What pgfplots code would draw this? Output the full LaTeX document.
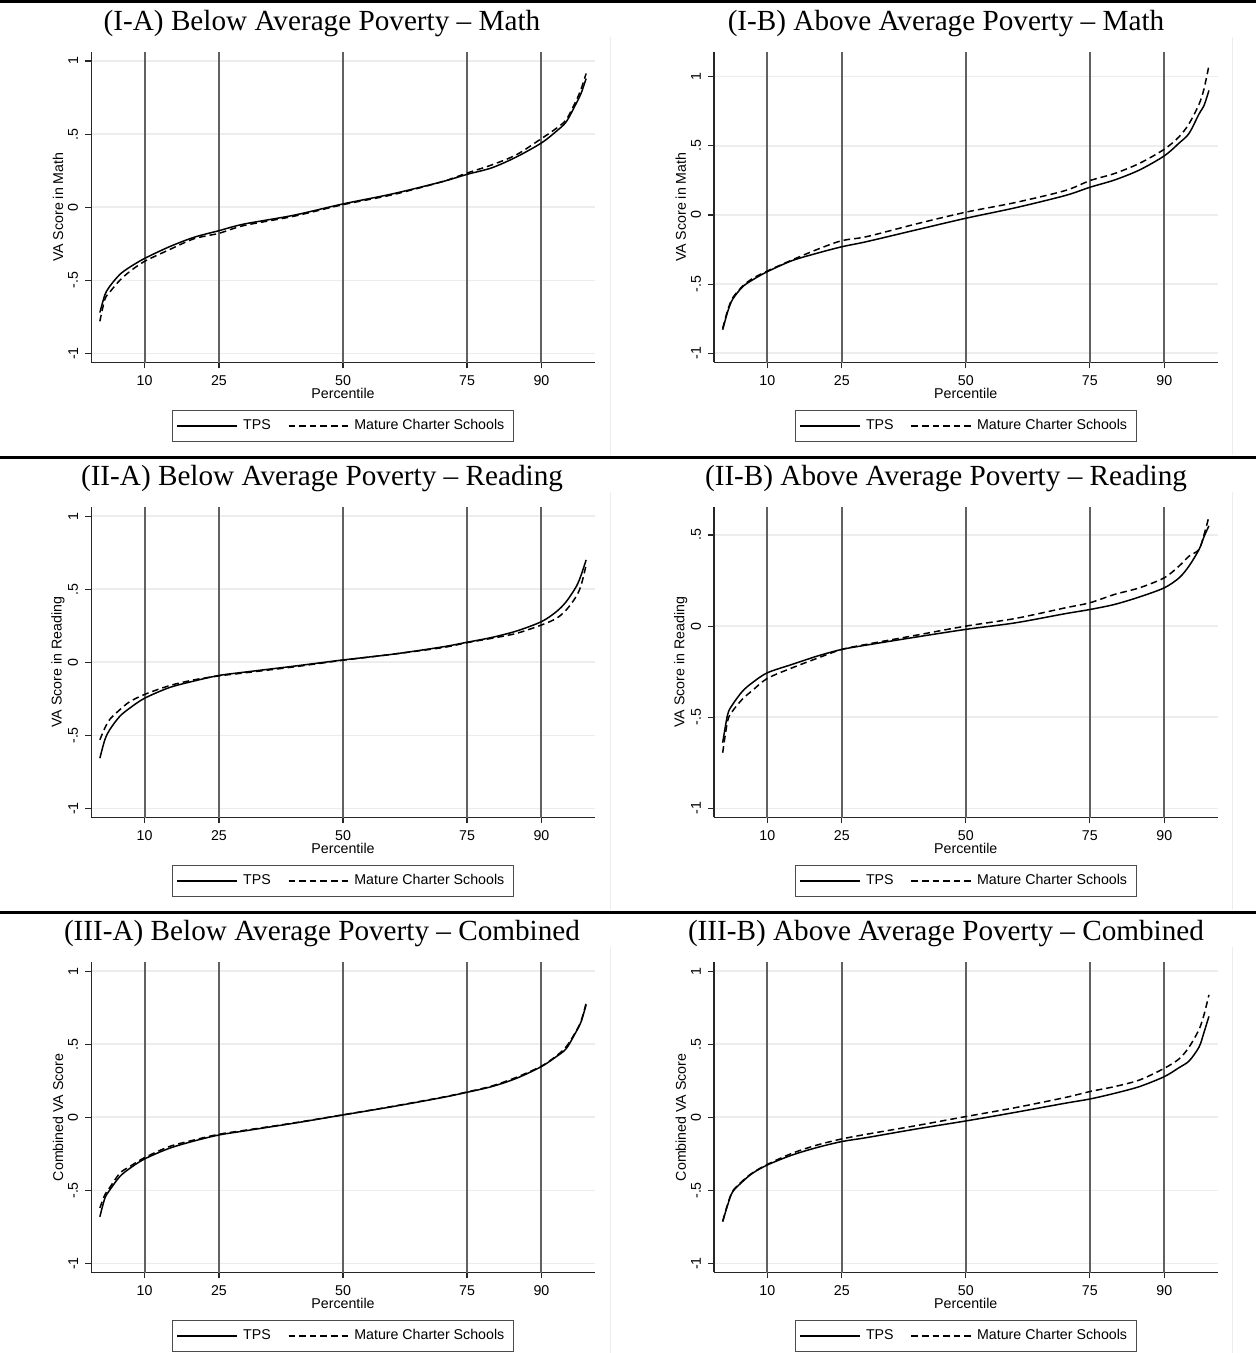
\documentclass[border=0pt]{standalone}
\usepackage{fontspec}
\setmainfont{Liberation Sans}
\newfontfamily\titlefont{Liberation Serif}
\usepackage{pgfplots}
\usepackage{pgfplotstable}
\pgfplotsset{compat=1.18}

\pgfplotstableread{
p tps mcs
1 -0.72 -0.78
2 -0.60 -0.63
3 -0.54 -0.58
5 -0.46 -0.50
7 -0.41 -0.44
10 -0.35 -0.37
15 -0.27 -0.29
20 -0.205 -0.215
25 -0.16 -0.178
30 -0.115 -0.125
40 -0.055 -0.062
50 0.023 0.018
60 0.092 0.086
70 0.175 0.175
75 0.225 0.234
80 0.27 0.29
85 0.345 0.36
90 0.44 0.47
93 0.52 0.54
95 0.585 0.60
97 0.71 0.73
98 0.78 0.81
99 0.88 0.915
}\IA

\pgfplotstableread{
p tps mcs
1 -0.83 -0.82
2 -0.70 -0.69
3 -0.61 -0.60
5 -0.52 -0.515
7 -0.47 -0.46
10 -0.41 -0.405
15 -0.33 -0.325
20 -0.277 -0.25
25 -0.23 -0.186
30 -0.193 -0.157
40 -0.108 -0.065
50 -0.024 0.02
60 0.052 0.09
70 0.14 0.176
75 0.20 0.248
80 0.253 0.30
85 0.325 0.373
90 0.427 0.475
93 0.52 0.566
95 0.59 0.66
97 0.73 0.80
98 0.79 0.91
99 0.90 1.08
}\IB

\pgfplotstableread{
p tps mcs
1 -0.656 -0.53
2 -0.53 -0.45
3 -0.46 -0.39
5 -0.37 -0.325
7 -0.314 -0.27
10 -0.246 -0.22
15 -0.173 -0.16
20 -0.128 -0.12
25 -0.09 -0.093
30 -0.068 -0.073
40 -0.027 -0.032
50 0.016 0.014
60 0.055 0.055
70 0.105 0.10
75 0.137 0.134
80 0.17 0.164
85 0.214 0.198
90 0.278 0.255
93 0.346 0.30
95 0.415 0.358
97 0.517 0.45
98 0.597 0.528
99 0.70 0.665
}\IIA

\pgfplotstableread{
p tps mcs
1 -0.64 -0.695
2 -0.485 -0.52
3 -0.43 -0.466
5 -0.357 -0.40
7 -0.31 -0.353
10 -0.256 -0.287
15 -0.21 -0.229
20 -0.165 -0.177
25 -0.128 -0.128
30 -0.104 -0.10
40 -0.06 -0.05
50 -0.018 0.0
60 0.018 0.042
70 0.068 0.10
75 0.091 0.128
80 0.119 0.174
85 0.16 0.21
90 0.21 0.265
93 0.265 0.33
95 0.33 0.384
97 0.42 0.42
98 0.49 0.50
99 0.55 0.60
}\IIB

\pgfplotstableread{
p tps mcs
1 -0.68 -0.62
2 -0.554 -0.53
3 -0.497 -0.48
5 -0.406 -0.383
7 -0.35 -0.337
10 -0.285 -0.276
15 -0.212 -0.20
20 -0.162 -0.155
25 -0.121 -0.116
30 -0.094 -0.09
40 -0.041 -0.039
50 0.016 0.017
60 0.073 0.075
70 0.135 0.137
75 0.171 0.173
80 0.21 0.214
85 0.267 0.274
90 0.347 0.35
93 0.415 0.42
95 0.47 0.483
97 0.586 0.59
98 0.654 0.66
99 0.77 0.78
}\IIIA

\pgfplotstableread{
p tps mcs
1 -0.714 -0.71
2 -0.60 -0.595
3 -0.51 -0.505
5 -0.44 -0.435
7 -0.383 -0.38
10 -0.326 -0.322
15 -0.258 -0.246
20 -0.207 -0.19
25 -0.166 -0.148
30 -0.139 -0.116
40 -0.08 -0.057
50 -0.025 0.005
60 0.034 0.066
70 0.096 0.135
75 0.125 0.176
80 0.164 0.21
85 0.21 0.255
90 0.278 0.335
93 0.34 0.40
95 0.385 0.48
97 0.48 0.60
98 0.58 0.70
99 0.69 0.837
}\IIIB

\newcommand{\lblfont}{\fontsize{7.1}{8.5}\selectfont}

\pgfplotsset{
  vagraph/.style={
    scale only axis, width=251.8pt, height=155pt,
    xmin=-0.75, xmax=100.75,
    axis x line*=bottom, axis y line*=left,
    axis line style={-, black!85, line width=0.55pt},
    tick align=outside, major tick length=3pt,
    tick style={black!85, line width=0.55pt},
    xtick={10,25,50,75,90}, xticklabels={10,25,50,75,90},
    ymajorgrids, grid style={black!7, line width=0.8pt},
    ticklabel style={font=\lblfont},
    y tick label style={rotate=90, anchor=south},
    xlabel={Percentile},
    every axis x label/.style={at={(axis description cs:0.5,-0.102)}, anchor=center, font=\lblfont},
    every axis y label/.style={at={(axis description cs:-0.066,0.5)}, rotate=90, anchor=center, font=\lblfont},
    legend style={at={(0.5,-0.154)}, anchor=north, legend columns=2,
      draw=black!70, line width=0.5pt, font=\lblfont,
      inner xsep=2pt, inner ysep=2.5pt,
      nodes={inner xsep=2.5pt},
      /tikz/every even column/.append style={column sep=6pt}},
    legend image code/.code={\draw[#1] (0pt,0pt) -- (27pt,0pt); \path (0pt,0pt) -- (30pt,0pt);},
  },
  tps/.style={black, line width=0.75pt, smooth},
  mcs/.style={black, line width=0.75pt, dash pattern=on 3.3pt off 2pt, smooth},
  vline/.style={black!62, line width=1pt, forget plot},
}

\newcommand{\vlines}{%
  \addplot[vline] coordinates {(10,-5) (10,5)};
  \addplot[vline] coordinates {(25,-5) (25,5)};
  \addplot[vline] coordinates {(50,-5) (50,5)};
  \addplot[vline] coordinates {(75,-5) (75,5)};
  \addplot[vline] coordinates {(90,-5) (90,5)};
}

\begin{document}
\begin{tikzpicture}
\useasboundingbox (0,0) rectangle (628pt,676.5pt);

% row rules
\draw[black, line width=1.5pt] (0pt,675.6pt) -- (628pt,675.6pt);
\draw[black, line width=1.5pt] (0pt,447.75pt) -- (628pt,447.75pt);
\draw[black, line width=1.5pt] (0pt,220.25pt) -- (628pt,220.25pt);
% faint panel borders
\foreach \yy in {0,227.5,455}{
  \draw[black!7, line width=0.5pt] (305pt,658pt-\yy pt) -- (305pt,449pt-\yy pt);
  \draw[black!7, line width=0.5pt] (616pt,658pt-\yy pt) -- (616pt,449pt-\yy pt);
}

% titles
\begin{scope}[every node/.style={anchor=base, font=\titlefont\fontsize{14.6}{17}\selectfont, inner sep=0pt}]
\node at (161pt,661pt) {(I-A) Below Average Poverty – Math};
\node at (473pt,661pt) {(I-B) Above Average Poverty – Math};
\node at (161pt,433.5pt) {(II-A) Below Average Poverty – Reading};
\node at (473pt,433.5pt) {(II-B) Above Average Poverty – Reading};
\node at (161pt,206pt) {(III-A) Below Average Poverty – Combined};
\node at (473pt,206pt) {(III-B) Above Average Poverty – Combined};
\end{scope}

% I-A
\begin{axis}[vagraph, at={(45.6pt,495.35pt)}, anchor=south west,
  ymin=-1.06, ymax=1.06, ytick={-1,-0.5,0,0.5,1}, yticklabels={-1,-.5,0,.5,1},
  ylabel={VA Score in Math}]
\vlines
\addplot[tps] table[x=p,y=tps]{\IA};
\addplot[mcs] table[x=p,y=mcs]{\IA};
\legend{TPS,Mature Charter Schools}
\end{axis}

% I-B
\begin{axis}[vagraph, at={(357pt,495.35pt)}, anchor=south west,
  ymin=-1.065, ymax=1.176, ytick={-1,-0.5,0,0.5,1}, yticklabels={-1,-.5,0,.5,1},
  ylabel={VA Score in Math}]
\vlines
\addplot[tps] table[x=p,y=tps]{\IB};
\addplot[mcs] table[x=p,y=mcs]{\IB};
\legend{TPS,Mature Charter Schools}
\end{axis}

% II-A
\begin{axis}[vagraph, at={(45.6pt,267.85pt)}, anchor=south west,
  ymin=-1.06, ymax=1.06, ytick={-1,-0.5,0,0.5,1}, yticklabels={-1,-.5,0,.5,1},
  ylabel={VA Score in Reading}]
\vlines
\addplot[tps] table[x=p,y=tps]{\IIA};
\addplot[mcs] table[x=p,y=mcs]{\IIA};
\legend{TPS,Mature Charter Schools}
\end{axis}

% II-B
\begin{axis}[vagraph, at={(357pt,267.85pt)}, anchor=south west,
  ymin=-1.049, ymax=0.652, ytick={-1,-0.5,0,0.5}, yticklabels={-1,-.5,0,.5},
  ylabel={VA Score in Reading}]
\vlines
\addplot[tps] table[x=p,y=tps]{\IIB};
\addplot[mcs] table[x=p,y=mcs]{\IIB};
\legend{TPS,Mature Charter Schools}
\end{axis}

% III-A
\begin{axis}[vagraph, at={(45.6pt,40.35pt)}, anchor=south west,
  ymin=-1.06, ymax=1.06, ytick={-1,-0.5,0,0.5,1}, yticklabels={-1,-.5,0,.5,1},
  ylabel={Combined VA Score}]
\vlines
\addplot[tps] table[x=p,y=tps]{\IIIA};
\addplot[mcs] table[x=p,y=mcs]{\IIIA};
\legend{TPS,Mature Charter Schools}
\end{axis}

% III-B
\begin{axis}[vagraph, at={(357pt,40.35pt)}, anchor=south west,
  ymin=-1.06, ymax=1.06, ytick={-1,-0.5,0,0.5,1}, yticklabels={-1,-.5,0,.5,1},
  ylabel={Combined VA Score}]
\vlines
\addplot[tps] table[x=p,y=tps]{\IIIB};
\addplot[mcs] table[x=p,y=mcs]{\IIIB};
\legend{TPS,Mature Charter Schools}
\end{axis}
\end{tikzpicture}
\end{document}
